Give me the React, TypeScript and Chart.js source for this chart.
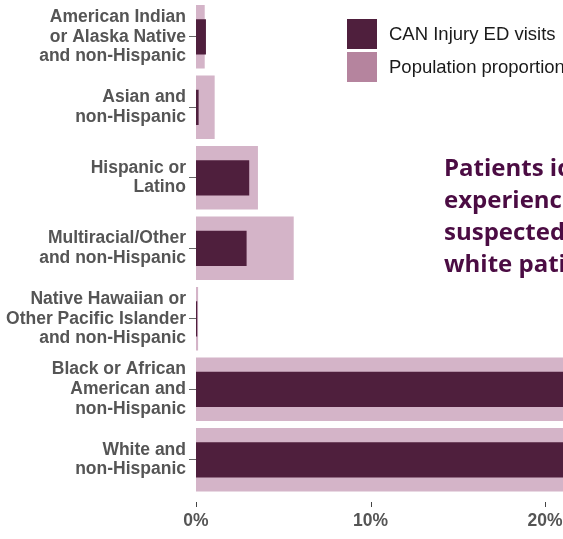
import React, { useEffect, useRef } from "react";
import { Chart, registerables } from "chart.js";

Chart.register(...registerables);

const categories: string[][] = [
  ["American Indian", "or Alaska Native", "and non-Hispanic"],
  ["Asian and", "non-Hispanic"],
  ["Hispanic or", "Latino"],
  ["Multiracial/Other", "and non-Hispanic"],
  ["Native Hawaiian or", "Other Pacific Islander", "and non-Hispanic"],
  ["Black or African", "American and", "non-Hispanic"],
  ["White and", "non-Hispanic"],
];
const canInjuryVisits: number[] = [0.57, 0.15, 3.05, 2.9, 0.07, 30.5, 58.0];
const populationProportion: number[] = [0.5, 1.07, 3.55, 5.6, 0.12, 24.0, 60.0];
const xTickValues: number[] = [0, 10, 20];
const legendLabels: string[] = ["CAN Injury ED visits", "Population proportion"];
const noteLines: string[] = [
  "Patients identified as Black",
  "experienced more suspected",
  "suspected CAN injury than",
  "white patients",
];

const DARK = "#4f1f3d";
const LIGHT = "#d4b4c8";
const LEGEND_LIGHT = "#b5849e";
const LABEL_GRAY = "#555555";

export default function App() {
  const canvasRef = useRef<HTMLCanvasElement | null>(null);

  useEffect(() => {
    document.body.style.overflow = "hidden";
    const canvas = canvasRef.current;
    if (!canvas) return;

    const xTickMarks = {
      id: "xTickMarks",
      afterDraw(chart: any) {
        const { ctx, chartArea, scales } = chart;
        const xs = scales.x;
        ctx.save();
        ctx.strokeStyle = "#444444";
        ctx.lineWidth = 1;
        xTickValues.forEach((v) => {
          const px = Math.round(xs.getPixelForValue(v)) + 0.5;
          ctx.beginPath();
          ctx.moveTo(px, chartArea.bottom + 7);
          ctx.lineTo(px, chartArea.bottom + 12);
          ctx.stroke();
        });
        ctx.restore();
      },
    };

    const chart = new Chart(canvas, {
      type: "bar",
      data: {
        labels: categories,
        datasets: [
          {
            label: legendLabels[0],
            data: canInjuryVisits,
            backgroundColor: DARK,
            grouped: false,
            barPercentage: 0.5,
            categoryPercentage: 1,
          } as any,
          {
            label: legendLabels[1],
            data: populationProportion,
            backgroundColor: LIGHT,
            grouped: false,
            barPercentage: 0.9,
            categoryPercentage: 1,
          } as any,
        ],
      },
      options: {
        indexAxis: "y",
        animation: false,
        responsive: true,
        maintainAspectRatio: false,
        layout: { padding: { top: 1.5, left: 0, right: 0, bottom: 0 } },
        plugins: {
          legend: { display: false },
          tooltip: { enabled: false },
        },
        scales: {
          x: {
            min: 0,
            max: 40,
            grid: { display: false },
            border: { display: false },
            ticks: {
              stepSize: 10,
              padding: 8,
              color: LABEL_GRAY,
              font: { family: "'Liberation Sans', Arial, sans-serif", size: 17.5, weight: "bold" },
              callback: (v: any) => (xTickValues.includes(Number(v)) ? `${v}%` : ""),
              maxRotation: 0,
            },
            afterFit: (scale: any) => {
              scale.height = 44;
              scale.paddingRight = 0;
            },
          },
          y: {
            grid: {
              display: true,
              drawOnChartArea: false,
              drawTicks: true,
              tickLength: 7,
              tickColor: "#666666",
              offset: false,
            },
            border: { display: false },
            ticks: {
              padding: 3,
              color: LABEL_GRAY,
              font: {
                family: "'Liberation Sans', Arial, sans-serif",
                size: 17.5,
                weight: "bold",
                lineHeight: 1.12,
              },
            },
            afterFit: (scale: any) => {
              scale.width = 196;
              scale.paddingTop = 0;
              scale.paddingBottom = 0;
            },
          },
        },
      },
      plugins: [xTickMarks],
    });

    return () => chart.destroy();
  }, []);

  return (
    <div
      style={{
        position: "fixed",
        left: 0,
        top: 0,
        width: 563,
        height: 539,
        overflow: "hidden",
        background: "#ffffff",
      }}
    >
      <div style={{ position: "absolute", left: 0, top: 0, width: 894, height: 539 }}>
        <canvas ref={canvasRef} />
      </div>
      <div
        style={{
          position: "absolute",
          left: 347,
          top: 19,
          fontFamily: "'Liberation Sans', Arial, sans-serif",
          fontSize: 18.5,
          color: "#1a1a1a",
          whiteSpace: "nowrap",
        }}
      >
        {legendLabels.map((lab, i) => (
          <div
            key={lab}
            style={{ display: "flex", alignItems: "center", height: 30, marginBottom: 3 }}
          >
            <div
              style={{
                width: 30,
                height: 30,
                background: i === 0 ? DARK : LEGEND_LIGHT,
                marginRight: 12,
              }}
            />
            <span>{lab}</span>
          </div>
        ))}
      </div>
      <div
        style={{
          position: "absolute",
          left: 444,
          top: 151,
          fontFamily: "'Open Sans', 'Noto Sans', sans-serif",
          fontWeight: 700,
          fontSize: 24,
          lineHeight: "32px",
          color: "#4b0c43",
          whiteSpace: "nowrap",
        }}
      >
        {noteLines.map((l) => (
          <div key={l}>{l}</div>
        ))}
      </div>
    </div>
  );
}
